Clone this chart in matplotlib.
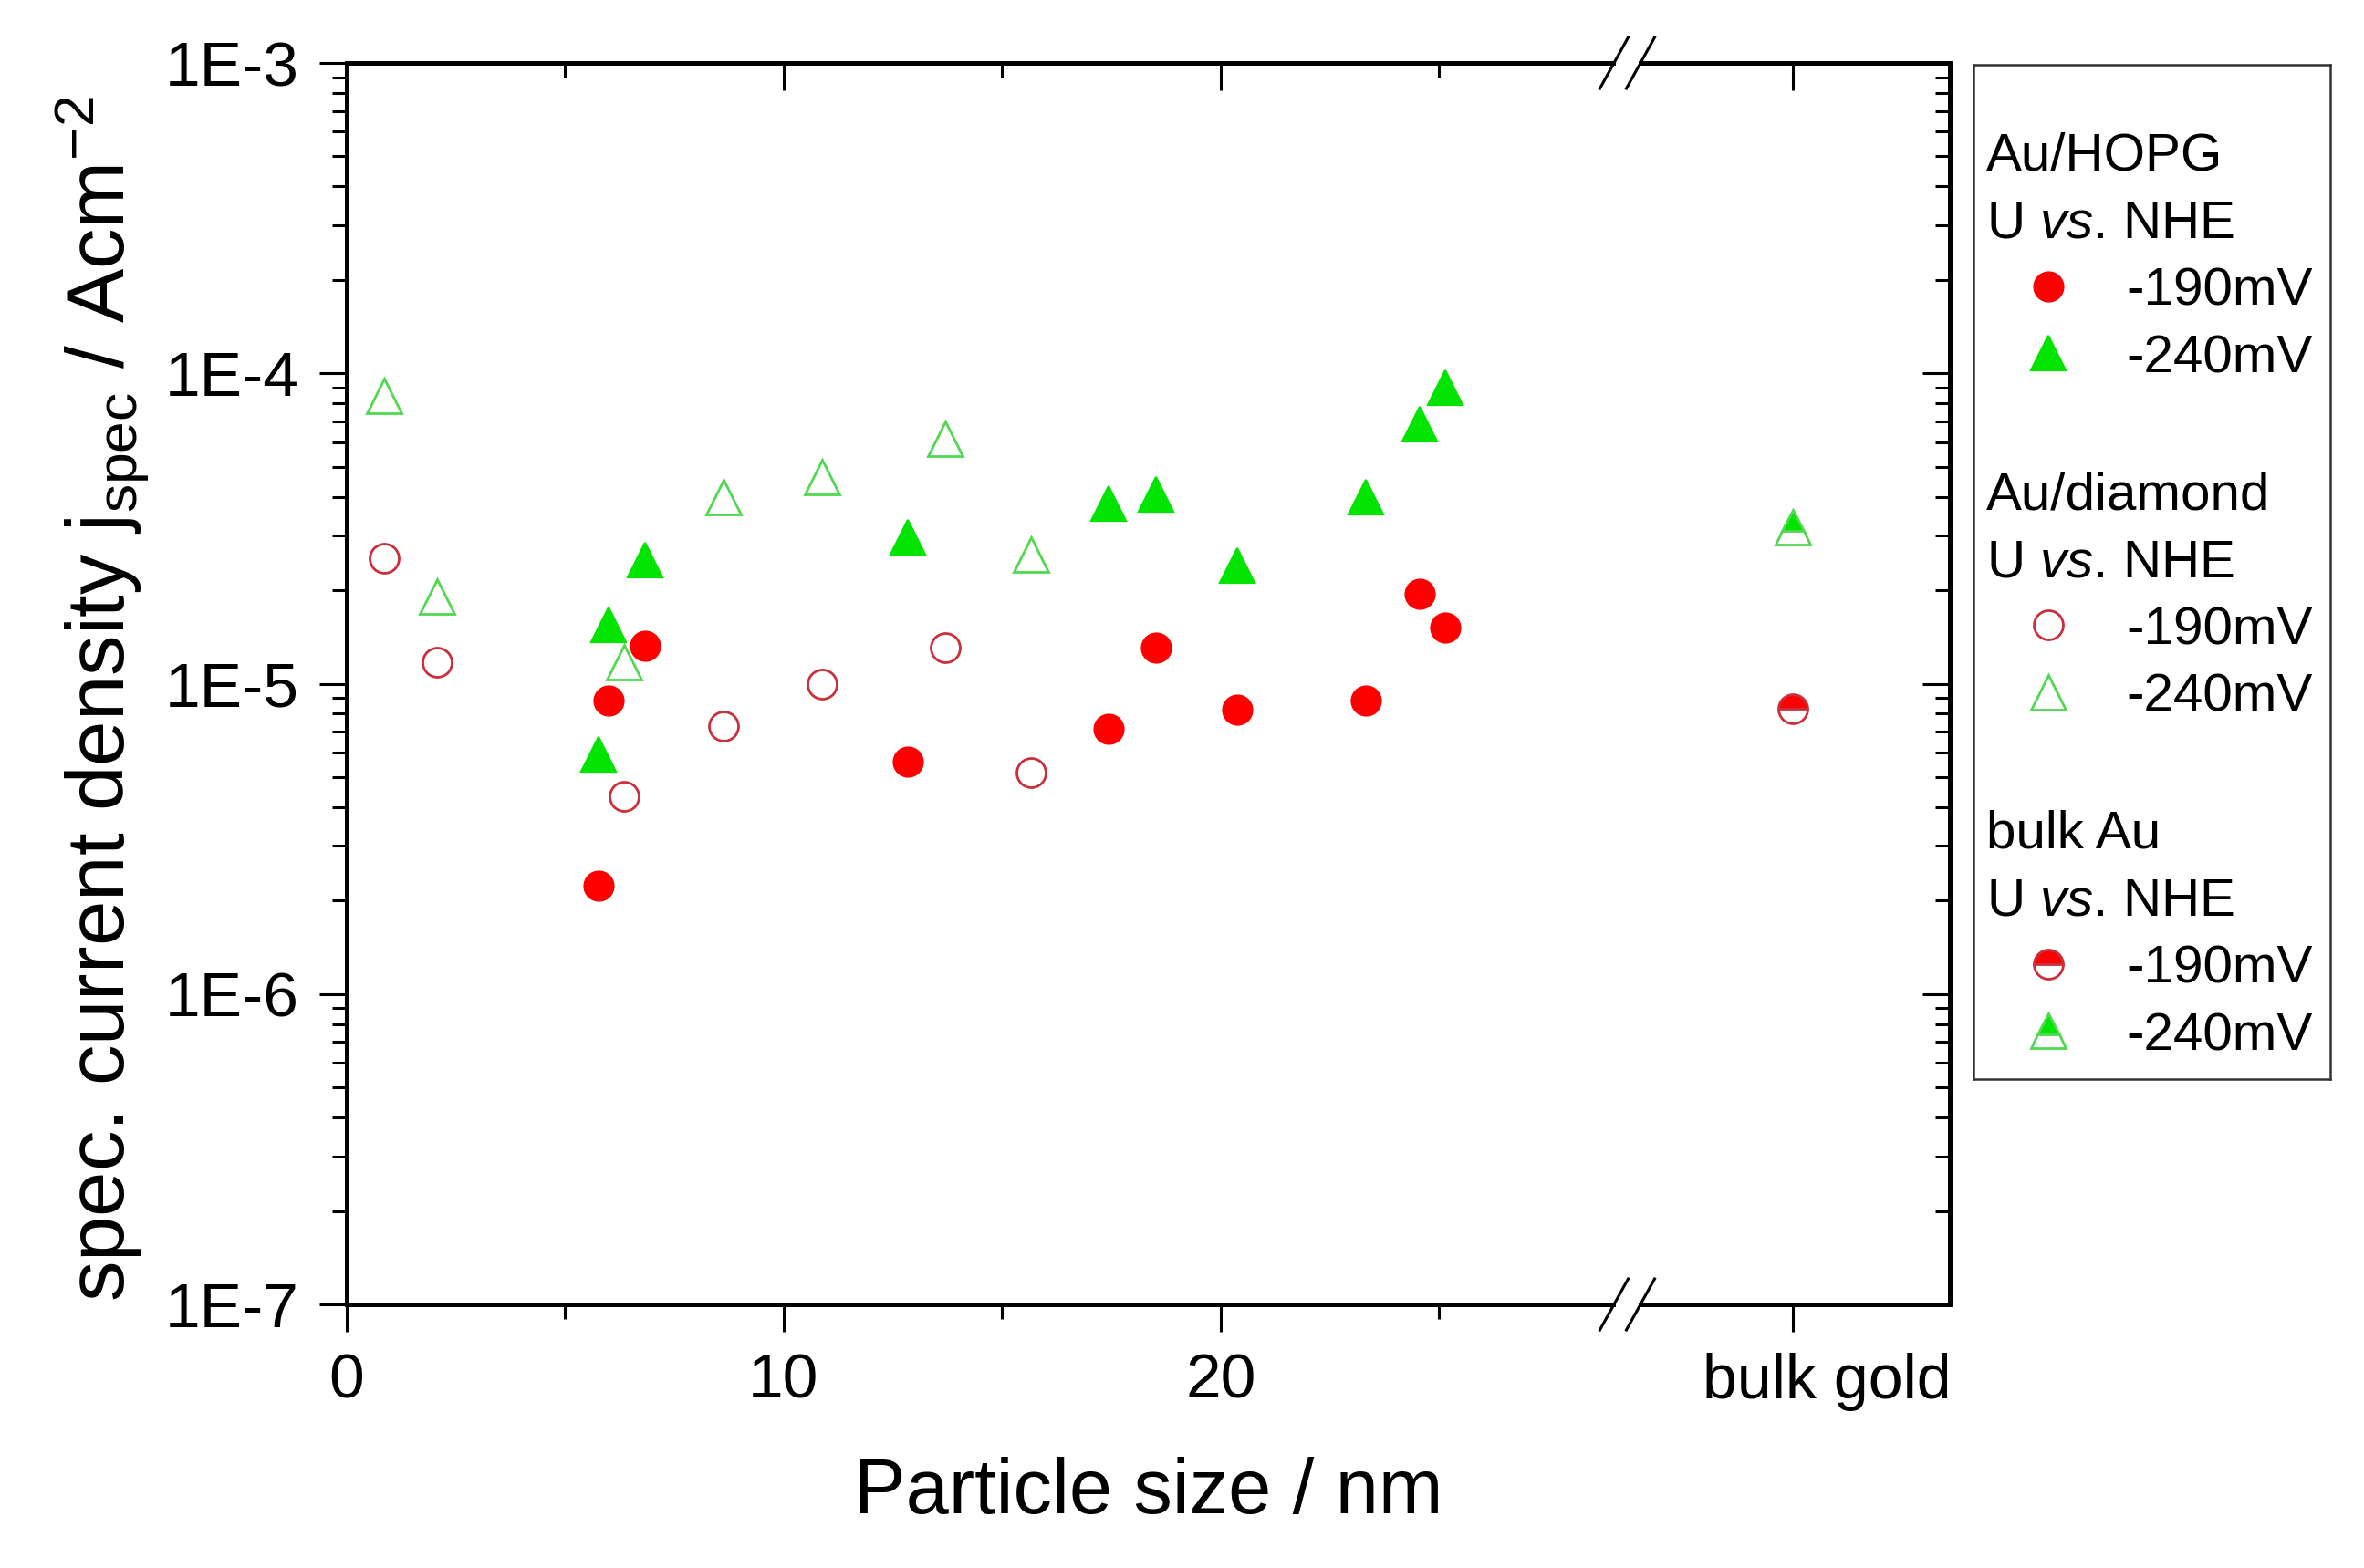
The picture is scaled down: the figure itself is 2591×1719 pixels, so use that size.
import numpy as np
import matplotlib
matplotlib.use('Agg')
import matplotlib.pyplot as plt
from matplotlib.ticker import FixedLocator, LogLocator, NullFormatter, FuncFormatter
from matplotlib.lines import Line2D
from matplotlib.patches import Rectangle

plt.rcParams['font.family'] = ['Liberation Sans', 'DejaVu Sans']
plt.rcParams['mathtext.fontset'] = 'custom'
plt.rcParams['mathtext.rm'] = 'Liberation Sans'
plt.rcParams['mathtext.it'] = 'Liberation Sans:italic'

# data
hopg_size = [5.76, 5.99, 6.83, 12.84, 17.43, 18.53, 20.38, 23.33, 24.55, 25.14]
hopg_190 = [2.23e-6, 8.8e-6, 1.32e-5, 5.6e-6, 7.15e-6, 1.31e-5, 8.25e-6, 8.8e-6, 1.95e-5, 1.52e-5]
hopg_240 = [5.9e-6, 1.55e-5, 2.5e-5, 2.96e-5, 3.81e-5, 4.08e-5, 2.41e-5, 3.99e-5, 6.85e-5, 9.0e-5]
diamond_size = [0.85, 2.07, 6.35, 8.62, 10.87, 13.69, 15.67]
diamond_190 = [2.53e-5, 1.17e-5, 4.35e-6, 7.3e-6, 1.0e-5, 1.31e-5, 5.18e-6]
diamond_240 = [8.43e-5, 1.91e-5, 1.17e-5, 3.99e-5, 4.63e-5, 6.15e-5, 2.6e-5]
bulk_190 = [8.3e-6]
bulk_240 = [3.2e-5]
x_ticks = [0, 10, 20]
x_minor = [5, 15, 25]
y_ticks = [1e-7, 1e-6, 1e-5, 1e-4, 1e-3]

BULK_X = 33.1     # where the "bulk gold" column sits after the axis break
X_MAX = 36.69

RED = '#ff0000'
RED_EDGE = '#c8303c'
GREEN = '#00e400'
GREEN_EDGE = '#50d850'

W, H = 2591, 1719
DPI = 200


def fx(x):
    return x / W


def fy(y):
    return 1 - y / H


fig = plt.figure(figsize=(W / DPI, H / DPI), dpi=DPI)
ax = fig.add_axes([fx(380), fy(1430), (2137 - 380) / W, (1430 - 69) / H])

# Au/HOPG
ax.plot(hopg_size, hopg_190, ls='none', marker='o', ms=11.5, mfc=RED, mec=RED, mew=0.8, zorder=3)
ax.plot(hopg_size, hopg_240, ls='none', marker='^', ms=14, mfc=GREEN, mec=GREEN, mew=0.8, zorder=3)
# Au/diamond
ax.plot(diamond_size, diamond_190, ls='none', marker='o', ms=11.5, mfc='none', mec=RED_EDGE, mew=1.0, zorder=3)
ax.plot(diamond_size, diamond_240, ls='none', marker='^', ms=14, mfc='none', mec=GREEN_EDGE, mew=1.0, zorder=3)
# bulk Au
ax.plot([BULK_X], bulk_190, ls='none', marker='o', ms=11.5, fillstyle='top', mfc=RED,
        markerfacecoloralt='white', mec=RED_EDGE, mew=1.0, zorder=3)
ax.plot([BULK_X], bulk_240, ls='none', marker='^', ms=14, fillstyle='top', mfc=GREEN,
        markerfacecoloralt='white', mec=GREEN_EDGE, mew=1.0, zorder=3)

ax.set_yscale('log')
ax.set_ylim(1e-7, 1e-3)
ax.set_xlim(0, X_MAX)

# inward ticks on top and right (twins share the other axis with ax)
axt = ax.twiny()
axr = ax.twinx()
axr.set_yscale('log')
axr.set_ylim(1e-7, 1e-3)
axt.set_xlim(0, X_MAX)

for a in (ax, axt):
    a.xaxis.set_major_locator(FixedLocator(x_ticks + [BULK_X]))
    a.xaxis.set_minor_locator(FixedLocator(x_minor))
for a in (ax, axr):
    a.yaxis.set_major_locator(FixedLocator(y_ticks))
    a.yaxis.set_minor_locator(LogLocator(base=10, subs=np.arange(2, 10)))
    a.yaxis.set_minor_formatter(NullFormatter())
for a in (ax, axt, axr):
    for s in a.spines.values():
        s.set_linewidth(1.8)

ax.xaxis.set_major_formatter(FuncFormatter(lambda v, p: '%d' % v if v in x_ticks else ''))
ax.yaxis.set_major_formatter(FuncFormatter(lambda v, p: '1E%d' % round(np.log10(v))))
ax.tick_params(which='major', direction='out', length=10.8, width=1.1, labelsize=25, pad=8)
ax.tick_params(which='minor', direction='out', length=5.7, width=1.1)

axt.tick_params(axis='x', which='major', direction='in', length=10.8, width=1.1,
                top=True, bottom=False, labeltop=False, labelbottom=False)
axt.tick_params(axis='x', which='minor', direction='in', length=5.7, width=1.1,
                top=True, bottom=False)
axr.tick_params(axis='y', which='major', direction='in', length=10.8, width=1.1,
                right=True, left=False, labelright=False, labelleft=False)
axr.tick_params(axis='y', which='minor', direction='in', length=5.7, width=1.1,
                right=True, left=False)

ax.annotate('bulk gold', xy=(1, 0), xycoords='axes fraction', xytext=(0.5, -19.1),
            textcoords='offset points', ha='right', va='top', fontsize=24.5)

ax.set_xlabel('Particle size / nm', fontsize=30.5)
ax.xaxis.set_label_coords(0.5, -0.123)
ax.set_ylabel(r'spec. current density j$_{\mathrm{spec}}$ / Acm$^{\mathrm{-2}}$', fontsize=32)
ax.yaxis.set_label_coords(-0.122, 0.488)

# axis break marks on top and bottom spines
for sy in (69, 1430):
    fig.add_artist(Rectangle((fx(1771), fy(sy + 7)), 25 / W, 14 / H, transform=fig.transFigure,
                             facecolor='white', edgecolor='none', zorder=10))
    for cx in (1769, 1798):
        fig.add_artist(Line2D([fx(cx - 15.5), fx(cx + 15.5)], [fy(sy + 28), fy(sy - 28)],
                              color='black', lw=1.1, transform=fig.transFigure, zorder=11))

# legend box
lax = fig.add_axes([fx(2163), fy(1183), (2554 - 2163) / W, (1183 - 71) / H])
lax.set_xlim(2163, 2554)
lax.set_ylim(1183, 71)
lax.set_xticks([])
lax.set_yticks([])
for s in lax.spines.values():
    s.set_linewidth(0.9)
    s.set_color('#333333')

groups = ['Au/HOPG', 'Au/diamond', 'bulk Au']
styles = [
    [dict(marker='o', ms=11.5, mfc=RED, mec=RED, mew=0.8),
     dict(marker='^', ms=14, mfc=GREEN, mec=GREEN, mew=0.8)],
    [dict(marker='o', ms=11.5, mfc='none', mec=RED_EDGE, mew=1.0),
     dict(marker='^', ms=14, mfc='none', mec=GREEN_EDGE, mew=1.0)],
    [dict(marker='o', ms=11.5, fillstyle='top', mfc=RED, markerfacecoloralt='white', mec=RED_EDGE, mew=1.0),
     dict(marker='^', ms=14, fillstyle='top', mfc=GREEN, markerfacecoloralt='white', mec=GREEN_EDGE, mew=1.0)],
]
potentials = ['-190mV', '-240mV']
for i, name in enumerate(groups):
    y0 = 166 + i * 371.5
    lax.text(2177, y0 + 21, name, fontsize=21, va='baseline', ha='left')
    lax.text(2177, y0 + 95, r'U $\mathit{vs}$. NHE', fontsize=21, va='baseline', ha='left')
    for j, pot in enumerate(potentials):
        yy = y0 + 148 + j * 73.5
        lax.plot([2245], [yy], ls='none', **styles[i][j])
        lax.text(2330, yy + 21, pot, fontsize=21, va='baseline', ha='left')

fig.savefig('out.png', dpi=DPI)
